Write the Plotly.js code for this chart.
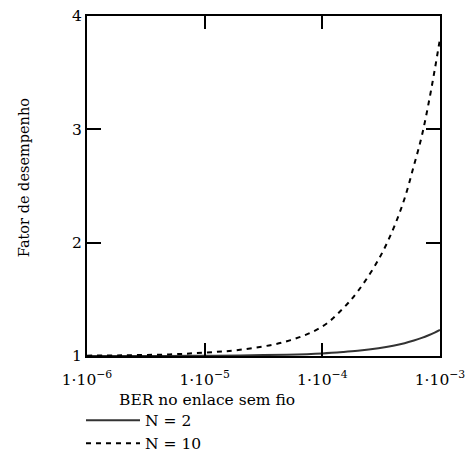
<!DOCTYPE html>
<html>
<head>
<meta charset="utf-8">
<script src="https://cdn.plot.ly/plotly-3.0.1.min.js"></script>
<style>html,body{margin:0;padding:0;background:#fff;}</style>
</head>
<body>
<div id="chart" style="width:466px;height:459px;"></div>
<script>
// BER values (x axis)
const ber = [1e-6, 2e-6, 5e-6, 1e-5, 2e-5, 5e-5, 1e-4, 1.5e-4, 2e-4, 3e-4, 4e-4, 5e-4, 6e-4, 7e-4, 8e-4, 9e-4, 1e-3];
// Performance factor, N = 2
const fatorN2 = [1.000, 1.000, 1.001, 1.002, 1.005, 1.012, 1.023, 1.035, 1.046, 1.068, 1.09, 1.113, 1.137, 1.16, 1.183, 1.206, 1.23];
// Performance factor, N = 10
const fatorN10 = [1.003, 1.006, 1.014, 1.03, 1.055, 1.13, 1.26, 1.42, 1.57, 1.85, 2.12, 2.39, 2.68, 2.94, 3.23, 3.52, 3.8];
// Tick labels
const xTickVals = [1e-6, 1e-5, 1e-4, 1e-3];
const xTickText = ['1·10<sup>−6</sup>', '1·10<sup>−5</sup>', '1·10<sup>−4</sup>', '1·10<sup>−3</sup>'];
const yTickVals = [1, 2, 3, 4];
const seriesNames = ['N = 2', 'N = 10'];

const serif = 'DejaVu Serif';

const traces = [
  {x: ber, y: fatorN2, name: seriesNames[0], mode: 'lines', type: 'scatter',
   line: {color: '#333333', width: 2, shape: 'spline'}},
  {x: ber, y: fatorN10, name: seriesNames[1], mode: 'lines', type: 'scatter',
   line: {color: '#000000', width: 2, dash: '5px,5px', shape: 'spline'}}
];

const layout = {
  width: 466, height: 459,
  margin: {l: 87, r: 26, t: 16, b: 103, autoexpand: false},
  paper_bgcolor: '#ffffff', plot_bgcolor: '#ffffff',
  font: {family: serif, size: 15, color: '#000'},
  showlegend: true,
  legend: {x: -0.017, y: -0.14, xanchor: 'left', yanchor: 'top', itemwidth: 54,
           font: {family: serif, size: 15.5, color: '#000'},
           bgcolor: 'rgba(0,0,0,0)', tracegroupgap: 0},
  xaxis: {type: 'log', range: [-6, -3], tickvals: xTickVals, ticktext: xTickText,
          ticks: 'inside', ticklen: 13, tickwidth: 2, tickcolor: '#000',
          showline: true, linewidth: 2, linecolor: '#000', mirror: 'ticks',
          showgrid: false, zeroline: false, ticklabelstandoff: 8,
          ticklabeloverflow: 'allow',
          tickfont: {family: serif, size: 15.5, color: '#000'}},
  yaxis: {range: [1, 4], tickvals: yTickVals,
          ticks: 'inside', ticklen: 14, tickwidth: 2, tickcolor: '#000',
          showline: true, linewidth: 2, linecolor: '#000', mirror: 'ticks',
          showgrid: false, zeroline: false,
          tickfont: {family: serif, size: 15.5, color: '#000'}},
  annotations: [
    {text: 'BER no enlace sem fio', xref: 'paper', yref: 'paper', x: 0.085, y: -0.129,
     xanchor: 'left', yanchor: 'middle', showarrow: false,
     font: {family: serif, size: 15.5, color: '#000'}},
    {text: 'Fator de desempenho', xref: 'paper', yref: 'paper', x: -0.178, y: 0.5235,
     xanchor: 'center', yanchor: 'middle', textangle: -90, showarrow: false,
     font: {family: serif, size: 14.5, color: '#000'}}
  ]
};

Plotly.newPlot('chart', traces, layout, {displayModeBar: false, staticPlot: true});
</script>
</body>
</html>
